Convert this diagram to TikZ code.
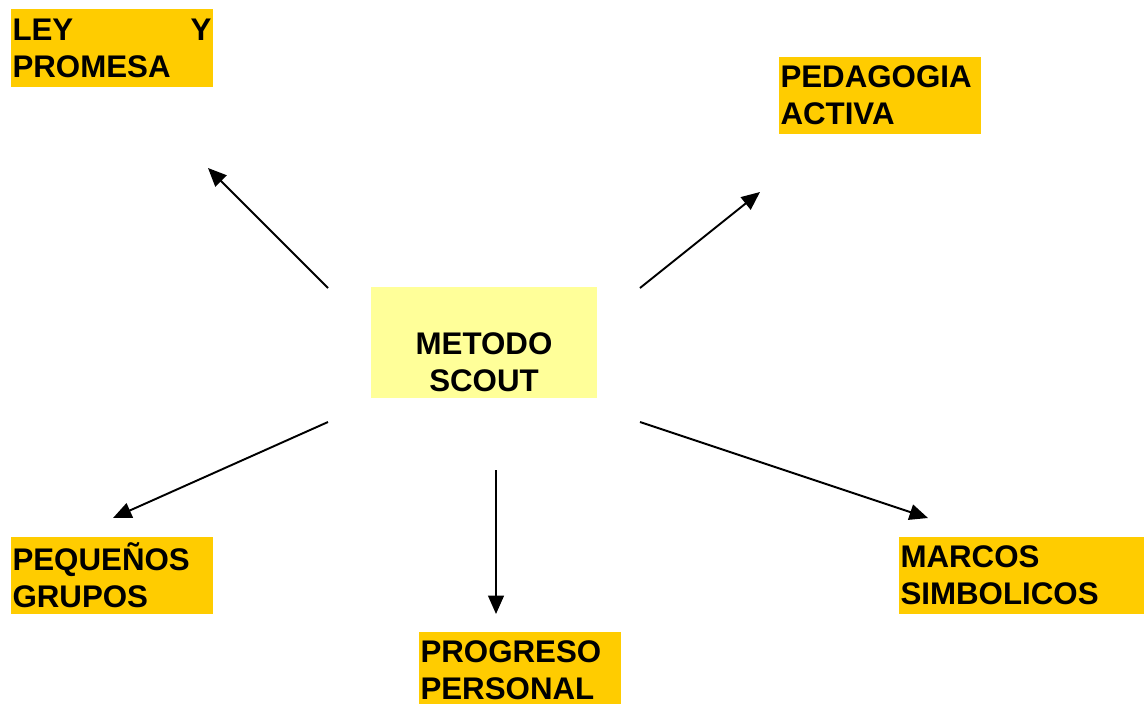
\documentclass[tikz,border=0pt]{standalone}
\usepackage{fontspec}
\setmainfont{Liberation Sans}
\usepackage{xcolor}
\definecolor{naranja}{HTML}{FFCC00}
\definecolor{amarillo}{HTML}{FFFF99}
\usepackage{tikz}
\usetikzlibrary{arrows.meta}

\begin{document}
\begin{tikzpicture}[x=0.02cm, y=-0.02cm,
	tema/.style={rectangle, fill=naranja, inner xsep=0.03cm, inner ysep=0pt, align=left, minimum height=1.55cm, font=\fontsize{17.8}{21}\selectfont\bfseries},
	flecha/.style={line width=1.1pt, -{Triangle[length=10.5pt, width=9pt]}}]
	\useasboundingbox (0,0) rectangle (1144,704);
	\clip (0,0) rectangle (1144,704);
	\node[rectangle, fill=amarillo, minimum width=4.52cm, minimum height=2.22cm, inner sep=0pt] (metodo) at (484,342.5) {};
	\node[align=center, font=\fontsize{17.8}{21}\selectfont\bfseries, inner sep=0pt] (metodotexto) at (484,362) {METODO\\SCOUT};
	\node[tema, text width=3.98cm] (ley) at (112,48) {LEY\hfill Y\\PROMESA};
	\node[tema, text width=3.98cm] (pedagogia) at (880,95.5) {PEDAGOGIA\\ACTIVA};
	\node[tema, text width=3.98cm] (pequenos) at (112,575.5) {PEQUEÑOS\\GRUPOS};
	\node[tema, text width=3.98cm] (progreso) at (520,670.5) {PROGRESO\\PERSONAL};
	\node[tema, text width=4.96cm] (marcos) at (1024.5,575.5) {MARCOS\\SIMBOLICOS};
	\coordinate (sal1) at (328,288);
	\coordinate (lleg1) at (208,168);
	\coordinate (sal2) at (640,288);
	\coordinate (lleg2) at (760,192);
	\coordinate (sal3) at (328,422);
	\coordinate (lleg3) at (113,518);
	\coordinate (sal4) at (496,470);
	\coordinate (lleg4) at (496,614);
	\coordinate (sal5) at (640,422);
	\coordinate (lleg5) at (928,518);
	\draw[flecha] (sal1) -- (lleg1);
	\draw[flecha] (sal2) -- (lleg2);
	\draw[flecha] (sal3) -- (lleg3);
	\draw[flecha] (sal4) -- (lleg4);
	\draw[flecha] (sal5) -- (lleg5);
\end{tikzpicture}
\end{document}
